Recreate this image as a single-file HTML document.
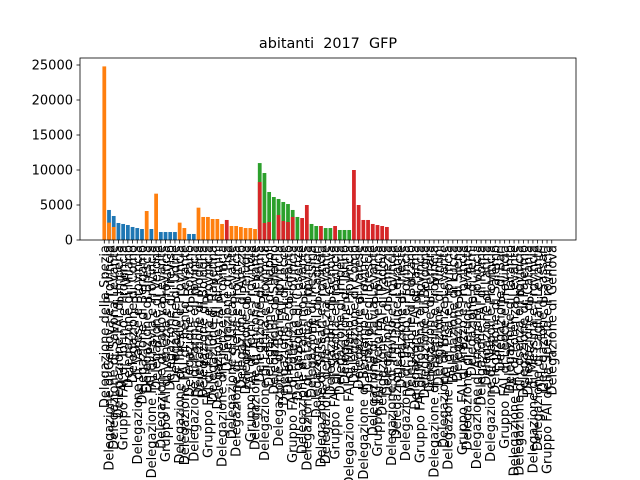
<!DOCTYPE html>
<html><head><meta charset="utf-8"><style>
html,body{margin:0;padding:0;background:#fff;width:640px;height:480px;overflow:hidden}
svg{display:block;font-family:"DejaVu Sans","Liberation Sans",sans-serif}
</style></head><body>
<svg id="chart" width="640" height="480" viewBox="0 0 640 480" xmlns="http://www.w3.org/2000/svg">
<rect x="0" y="0" width="640" height="480" fill="#fff"/>
<text x="328" y="48" text-anchor="middle" font-size="14.4" style="white-space:pre" xml:space="preserve">abitanti  2017  GFP</text>
<g id="bars"></g>
<g id="xticks"></g>
<g id="yticks"></g>
<rect x="80" y="58" width="496" height="182" fill="none" stroke="#000" stroke-width="0.8"/>
</svg>
<script>
const nCat = 96;
const blueVals = {1:4290,2:3430,3:2430,4:2290,5:2140,6:1860,7:1710,8:1570,10:1570,12:1140,13:1140,14:1140,15:1140,18:860,19:860};
const orangeVals = {0:24800,1:2480,2:1860,9:4140,11:6620,16:2480,17:1710,20:4620,21:3290,22:3290,23:3000,24:3000,25:2290,27:2000,28:2000,29:1860,30:1710,31:1710,32:1570};
const greenVals = {33:10990,34:9570,35:6860,36:6140,37:5860,38:5430,39:5140,40:4290,41:3290,44:2290,45:2000,47:1710,48:1710,50:1430,51:1430,52:1430};
const redVals = {26:2860,33:8280,34:2430,35:2570,37:3570,38:2710,39:2570,40:3290,42:3140,43:5000,46:2000,49:2000,53:10000,54:5000,55:2860,56:2860,57:2290,58:2140,59:2000,60:1860};
const yTicks = [0,5000,10000,15000,20000,25000];
const places = ["della Spezia","di Genova","di Savona","di Imperia","di Torino","di Milano","di Como","di Varese","di Bergamo","di Brescia","di Pavia","di Verona","di Padova","di Venezia","di Treviso","di Udine","di Trieste","di Trento","di Bolzano","di Parma","di Modena","di Bologna","di Ferrara","di Ravenna","di Rimini","di Firenze","di Pisa","di Lucca","di Siena","di Arezzo","di Perugia","di Terni","di Ancona","di Roma","di Latina","di Napoli","di Salerno","di Bari","di Lecce","di Taranto","di Potenza","di Cosenza","di Palermo","di Catania","di Messina","di Cagliari","di Sassari"];
const labels = [];
for (let i = 0; i < nCat; i++) {
  const p = places[i % places.length];
  const pre = (i % 9 === 4) ? "Gruppo FAI " : (i % 7 === 3 ? "Delegazione FAI " : "Delegazione ");
  const suf = (i % 3 === 1) ? " e Provincia" : (i % 5 === 2 ? " Levante" : "");
  labels.push(pre + p + suf);
}
const NS = "http://www.w3.org/2000/svg";
const x0 = 104.3, step = 4.71, bw = 3.77;
const yBase = 240, pxPer = 35 / 5000;
function xPos(i) { return x0 + step * i; }
function yPos(v) { return yBase - v * pxPer; }
const bars = document.getElementById('bars');
function drawSeries(vals, color, name) {
  for (const k in vals) {
    const i = +k, v = vals[k];
    const r = document.createElementNS(NS, 'rect');
    r.setAttribute('x', xPos(i) - bw / 2);
    r.setAttribute('y', yPos(v));
    r.setAttribute('width', bw);
    r.setAttribute('height', yBase - yPos(v));
    r.setAttribute('fill', color);
    
    
    bars.appendChild(r);
  }
}
drawSeries(blueVals, '#1f77b4', 'blue');
drawSeries(orangeVals, '#ff7f0e', 'orange');
drawSeries(greenVals, '#2ca02c', 'green');
drawSeries(redVals, '#d62728', 'red');
const xt = document.getElementById('xticks');
for (let i = 0; i < nCat; i++) {
  const x = xPos(i);
  const l = document.createElementNS(NS, 'line');
  l.setAttribute('x1', x); l.setAttribute('x2', x);
  l.setAttribute('y1', 240); l.setAttribute('y2', 243.5);
  l.setAttribute('stroke', '#000'); l.setAttribute('stroke-width', '0.8');
  
  
  xt.appendChild(l);
  const t = document.createElementNS(NS, 'text');
  t.setAttribute('transform', 'translate(' + (x + 4.5) + ',245) rotate(-90)');
  t.setAttribute('text-anchor', 'end');
  t.setAttribute('font-size', '13');
  t.textContent = labels[i];
  
  
  xt.appendChild(t);
}
const yt = document.getElementById('yticks');
yTicks.forEach(v => {
  const y = yPos(v);
  const l = document.createElementNS(NS, 'line');
  l.setAttribute('x1', 76.5); l.setAttribute('x2', 80);
  l.setAttribute('y1', y); l.setAttribute('y2', y);
  l.setAttribute('stroke', '#000'); l.setAttribute('stroke-width', '0.8');
  
  
  yt.appendChild(l);
  const t = document.createElementNS(NS, 'text');
  t.setAttribute('x', 73); t.setAttribute('y', y + 4.5);
  t.setAttribute('text-anchor', 'end');
  t.setAttribute('font-size', '13');
  t.textContent = String(v);
  
  
  yt.appendChild(t);
});
</script>
</body></html>
